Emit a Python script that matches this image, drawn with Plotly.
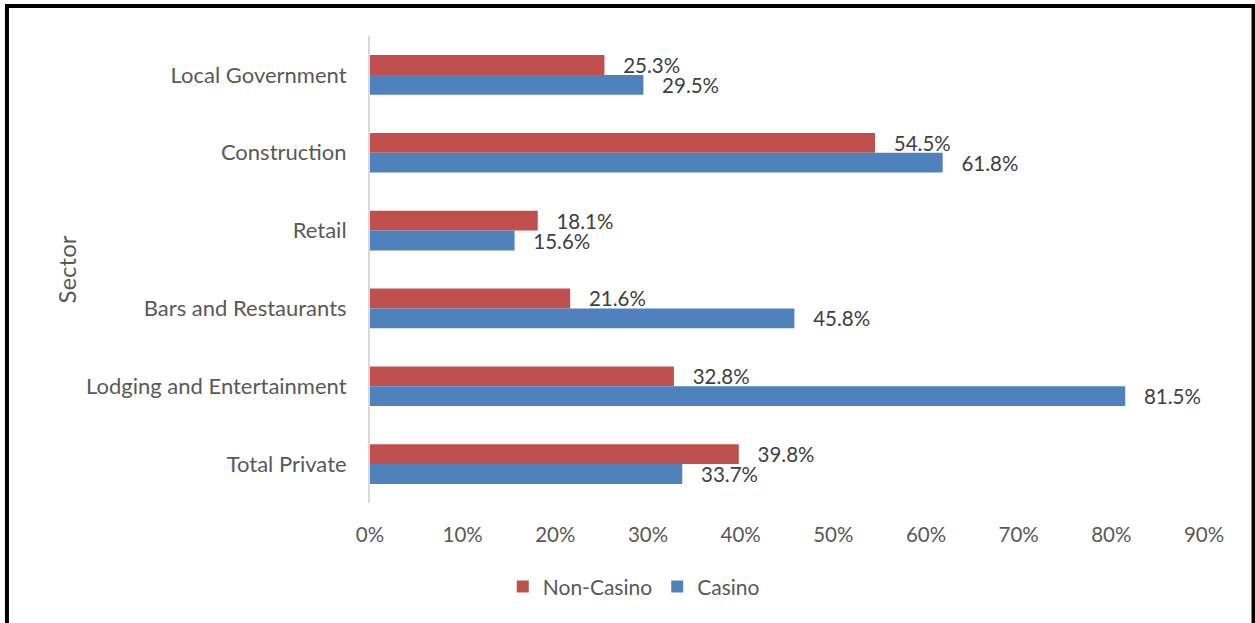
import plotly.graph_objects as go

# Employment change by sector, casino vs non-casino areas
sectors = ["Local Government", "Construction", "Retail", "Bars and Restaurants",
           "Lodging and Entertainment", "Total Private"]
non_casino = [25.3, 54.5, 18.1, 21.6, 32.8, 39.8]
casino = [29.5, 61.8, 15.6, 45.8, 81.5, 33.7]
x_ticks = [0, 10, 20, 30, 40, 50, 60, 70, 80, 90]

RED = "#C0504D"
BLUE = "#4F81BD"
FONT = "Lato, 'Open Sans', sans-serif"

fig = go.Figure()
for name, vals, color in [("Non-Casino", non_casino, RED), ("Casino", casino, BLUE)]:
    fig.add_trace(go.Bar(
        y=sectors, x=[v / 100 for v in vals], name=name, orientation="h",
        marker=dict(color=color, line=dict(width=0)),
        text=["   %.1f%%" % v for v in vals], textposition="outside",
        constraintext="none", cliponaxis=False,
        textfont=dict(family=FONT, size=20.5, color="#404040"),
    ))

fig.update_layout(
    width=1255, height=623,
    margin=dict(l=370, r=51, t=36, b=120),
    paper_bgcolor="white", plot_bgcolor="white",
    barmode="group", bargap=0.49, bargroupgap=0,
    font=dict(family=FONT, color="#595959", size=21),
    showlegend=True,
    legend=dict(orientation="h", xref="container", yref="container",
                x=0.505, y=0.058, xanchor="center", yanchor="middle",
                font=dict(size=21, color="#595959"), itemwidth=30,
                tracegroupgap=0),
    xaxis=dict(range=[0, 0.9], tickvals=[t / 100 for t in x_ticks],
               ticktext=["%d%%" % t for t in x_ticks], showgrid=False,
               zeroline=False, showline=False, ticks="", ticklabelstandoff=17,
               tickfont=dict(size=20.5)),
    yaxis=dict(autorange="reversed", showgrid=False, zeroline=False,
               showline=True, linecolor="#D9D9D9", linewidth=2, ticks="",
               ticklabelstandoff=17, tickfont=dict(size=22),
               title=dict(text="Sector", standoff=3, font=dict(size=24))),
)

# chart frame
fig.add_shape(type="rect", xref="paper", yref="paper",
              x0=-0.4353, x1=1.0594, y0=-0.4, y1=1.0642,
              line=dict(color="black", width=4), layer="above")

fig.write_html("out.html")
